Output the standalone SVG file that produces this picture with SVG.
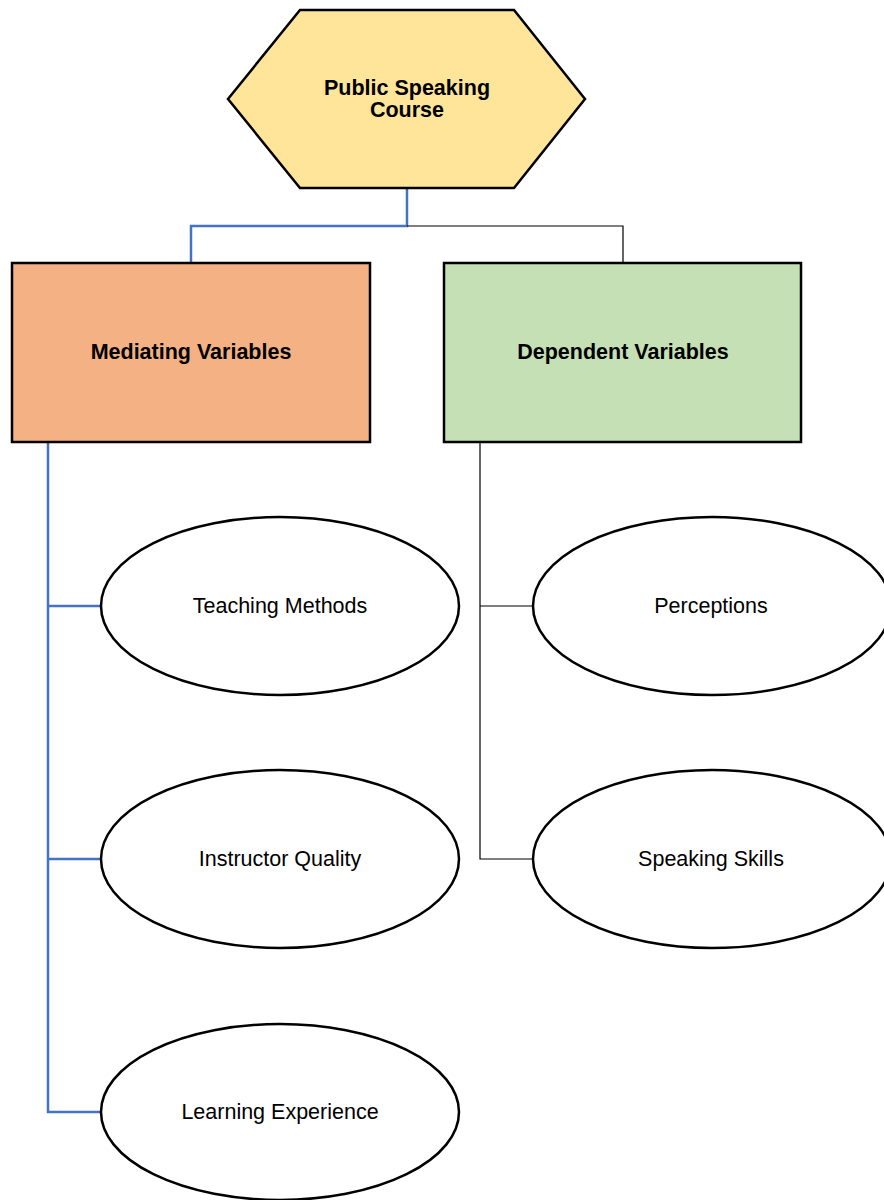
<svg xmlns="http://www.w3.org/2000/svg" width="884" height="1200" viewBox="0 0 884 1200">
<style>
.shape{stroke:#000;stroke-width:2.5}
.t{font-family:"Liberation Sans",Arial,sans-serif;font-size:21.5px;text-anchor:middle;fill:#000}
.b{font-weight:bold}
.blue{fill:none;stroke:#4472C4;stroke-width:2.5}
.blk{fill:none;stroke:#000;stroke-width:1.2}
</style>
<rect width="884" height="1200" fill="#fff"/>
<g id="connectors">
<polyline class="blue" points="407,188 407,226 191,226 191,263"/>
<polyline class="blk" points="407,226 623,226 623,263"/>
<polyline class="blue" points="48,442 48,1112 101,1112"/>
<line class="blue" x1="48" y1="606" x2="101" y2="606"/>
<line class="blue" x1="48" y1="859" x2="101" y2="859"/>
<polyline class="blk" points="480,442 480,859 533,859"/>
<line class="blk" x1="480" y1="606" x2="533" y2="606"/>
</g>
<g id="node-course">
<polygon class="shape" fill="#FFE599" points="300,10 514,10 585,99 514,188 300,188 228,99"/>
<text class="t b" x="407" y="95">Public Speaking</text>
<text class="t b" x="407" y="117">Course</text>
</g>
<g id="node-mediating">
<rect class="shape" fill="#F4B183" x="12" y="263" width="358" height="179"/>
<text class="t b" x="191" y="359">Mediating Variables</text>
</g>
<g id="node-dependent">
<rect class="shape" fill="#C5E0B4" x="444" y="263" width="357" height="179"/>
<text class="t b" x="623" y="359">Dependent Variables</text>
</g>
<g id="node-teaching">
<ellipse class="shape" fill="#fff" cx="280" cy="606" rx="179" ry="89"/>
<text class="t" x="280" y="613">Teaching Methods</text>
</g>
<g id="node-instructor">
<ellipse class="shape" fill="#fff" cx="280" cy="859" rx="179" ry="89"/>
<text class="t" x="280" y="866">Instructor Quality</text>
</g>
<g id="node-learning">
<ellipse class="shape" fill="#fff" cx="280" cy="1112" rx="179" ry="88"/>
<text class="t" x="280" y="1119">Learning Experience</text>
</g>
<g id="node-perceptions">
<ellipse class="shape" fill="#fff" cx="712" cy="606" rx="179" ry="89"/>
<text class="t" x="711" y="613">Perceptions</text>
</g>
<g id="node-skills">
<ellipse class="shape" fill="#fff" cx="712" cy="859" rx="179" ry="89"/>
<text class="t" x="711" y="866">Speaking Skills</text>
</g>
</svg>
